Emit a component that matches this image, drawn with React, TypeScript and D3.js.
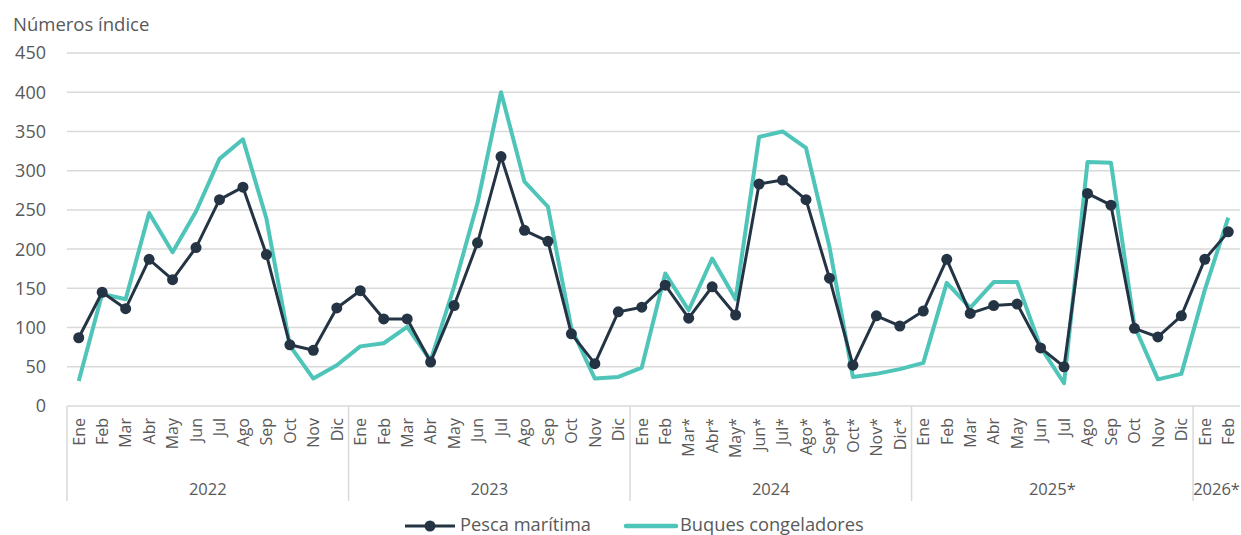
import React from "react";
import * as d3 from "d3";

const years = ["2022", "2023", "2024", "2025*", "2026*"];
const months2022 = ["Ene","Feb","Mar","Abr","May","Jun","Jul","Ago","Sep","Oct","Nov","Dic"];
const months2023 = ["Ene","Feb","Mar","Abr","May","Jun","Jul","Ago","Sep","Oct","Nov","Dic"];
const months2024 = ["Ene","Feb","Mar*","Abr*","May*","Jun*","Jul*","Ago*","Sep*","Oct*","Nov*","Dic*"];
const months2025 = ["Ene","Feb","Mar","Abr","May","Jun","Jul","Ago","Sep","Oct","Nov","Dic"];
const months2026 = ["Ene","Feb"];
const monthGroups = [months2022, months2023, months2024, months2025, months2026];

const pesca = [
  87, 145, 124, 187, 161, 202, 263, 279, 193, 78, 71, 125,
  147, 111, 111, 56, 128, 208, 318, 224, 210, 92, 54, 120,
  126, 154, 112, 152, 116, 283, 288, 263, 163, 52, 115, 102,
  121, 187, 118, 128, 130, 74, 50, 271, 256, 99, 88, 115,
  187, 222,
];
const buques = [
  32, 143, 136, 246, 196, 248, 315, 340, 239, 77, 35, 52,
  76, 80, 101, 58, 152, 259, 400, 286, 254, 99, 35, 37,
  49, 169, 122, 188, 136, 343, 350, 329, 203, 37, 41, 47,
  55, 157, 125, 158, 158, 75, 29, 311, 310, 102, 34, 41,
  148, 240,
];
const yTicks = [0, 50, 100, 150, 200, 250, 300, 350, 400, 450];

const W = 1241, H = 535;
const left = 67, right = 1240, top = 53, bottom = 406;
const font = "'Open Sans', 'Noto Sans', sans-serif";
const textColor = "#595959";
const gridColor = "#d9d9d9";
const darkColor = "#253444";
const tealColor = "#4fc4b9";

export default function App() {
  const cats: { label: string; year: number }[] = [];
  monthGroups.forEach((g, yi) => g.forEach((m) => cats.push({ label: m, year: yi })));
  const idx = cats.map((_, i) => i);
  const x = d3.scaleBand<number>().domain(idx).range([left, right]).padding(0);
  const y = d3.scaleLinear().domain([0, 450]).range([bottom, top]);
  const cx = (i: number) => (x(i) as number) + x.bandwidth() / 2;

  const line = d3.line<number>().x((_, i) => cx(i)).y((d) => y(d));

  const bounds: number[] = [];
  let acc = 0;
  const yearCenters: number[] = [];
  monthGroups.forEach((g) => {
    bounds.push(x(acc) as number);
    const start = x(acc) as number;
    acc += g.length;
    const end = acc < cats.length ? (x(acc) as number) : right;
    yearCenters.push((start + end) / 2);
  });

  return (
    <div style={{ position: "absolute", left: 0, top: 0 }}>
      <svg width={W} height={H} style={{ display: "block", fontFamily: font }}>
        <rect width={W} height={H} fill="#ffffff" />
        <text x={13} y={31} fontSize={18.5} fill={textColor}>Números índice</text>
        {yTicks.map((t) => (
          <g key={t}>
            {t > 0 && (
              <line x1={left} x2={right} y1={y(t)} y2={y(t)} stroke={gridColor} strokeWidth={1.5} />
            )}
            <text x={46} y={y(t)} dy="0.36em" textAnchor="end" fontSize={18} fill={textColor}>{t}</text>
          </g>
        ))}
        <line x1={left} x2={right} y1={bottom} y2={bottom} stroke={gridColor} strokeWidth={1.5} />
        {bounds.map((b, i) => (
          <line key={i} x1={b} x2={b} y1={bottom} y2={501} stroke={gridColor} strokeWidth={1.5} />
        ))}
        {cats.map((c, i) => (
          <text
            key={i}
            transform={`translate(${cx(i) + 5.8},${418}) rotate(-90)`}
            textAnchor="end"
            fontSize={16}
            fill={textColor}
          >
            {c.label}
          </text>
        ))}
        {years.map((yr, i) => (
          <text key={yr} x={yearCenters[i]} y={495} textAnchor="middle" fontSize={16.5} fill={textColor}>{yr}</text>
        ))}
        <path d={line(buques) || ""} fill="none" stroke={tealColor} strokeWidth={4} strokeLinejoin="round" />
        <path d={line(pesca) || ""} fill="none" stroke={darkColor} strokeWidth={3} strokeLinejoin="round" />
        {pesca.map((v, i) => (
          <circle key={i} cx={cx(i)} cy={y(v)} r={5.5} fill={darkColor} />
        ))}
        <line x1={405} x2={455} y1={526} y2={526} stroke={darkColor} strokeWidth={3} />
        <circle cx={430} cy={526} r={5.5} fill={darkColor} />
        <text x={460} y={531} fontSize={18.3} fill={textColor}>Pesca marítima</text>
        <line x1={626} x2={676} y1={526} y2={526} stroke={tealColor} strokeWidth={4.5} strokeLinecap="round" />
        <text x={680} y={531} fontSize={18.3} fill={textColor}>Buques congeladores</text>
      </svg>
    </div>
  );
}
